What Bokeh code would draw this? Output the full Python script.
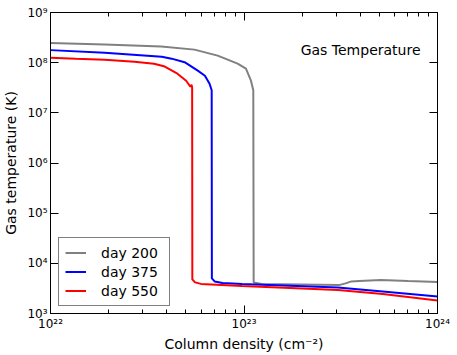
import numpy as np
from bokeh.plotting import figure
from bokeh.models import (LogAxis, FixedTicker, CustomJSTickFormatter, Label,
                          Legend, LegendItem, Range1d)
from bokeh.embed import file_html
from bokeh.resources import INLINE

# log10 column density (cm^-2) and log10 gas temperature (K)
day200_logN = [22.0, 22.28, 22.572, 22.744, 22.864, 22.967, 23.010, 23.036, 23.048, 23.050,
               23.091, 23.293, 23.495, 23.525, 23.555, 23.596, 23.707, 23.849, 24.0]
day200_logT = [8.39, 8.36, 8.32, 8.26, 8.14, 7.98, 7.88, 7.64, 7.45, 3.62,
               3.59, 3.58, 3.57, 3.60, 3.64, 3.65, 3.67, 3.65, 3.63]

day375_logN = [22.0, 22.28, 22.575, 22.626, 22.693, 22.761, 22.798, 22.822, 22.833, 22.834,
               22.848, 22.889, 22.990, 23.485, 23.717, 24.0]
day375_logT = [8.25, 8.20, 8.12, 8.08, 8.01, 7.84, 7.74, 7.58, 7.45, 3.70,
               3.64, 3.61, 3.59, 3.52, 3.44, 3.34]

day550_logN = [22.0, 22.131, 22.28, 22.434, 22.535, 22.586, 22.656, 22.701, 22.723, 22.729,
               22.732, 22.733, 22.747, 22.778, 22.990, 23.485, 23.717, 24.0]
day550_logT = [8.10, 8.08, 8.06, 8.02, 7.98, 7.93, 7.78, 7.64, 7.52, 7.56,
               7.50, 3.68, 3.62, 3.59, 3.55, 3.47, 3.39, 3.26]

series_labels = ["day 200", "day 375", "day 550"]
series_colors = ["gray", "blue", "red"]

x_major = [1e22, 1e23, 1e24]
x_minor = [m * 10.0**e for e in (22, 23) for m in range(2, 10)]
y_major = [10.0**e for e in range(3, 10)]

p = figure(width=457, height=355, x_axis_type="log", y_axis_type="log",
           x_range=Range1d(1e22, 1e24), y_range=Range1d(1e3, 1e9),
           output_backend="svg", toolbar_location=None,
           min_border_left=49, min_border_right=20, min_border_top=12, min_border_bottom=42)

p.grid.visible = False
p.outline_line_color = "black"
p.outline_line_width = 1

renderers = []
for logN, logT, col in [(day200_logN, day200_logT, series_colors[0]),
                        (day375_logN, day375_logT, series_colors[1]),
                        (day550_logN, day550_logT, series_colors[2])]:
    r = p.line(10.0 ** np.array(logN), 10.0 ** np.array(logT), line_color=col, line_width=2)
    renderers.append(r)

fmt = CustomJSTickFormatter(code="""
const sup = {'0':'\u2070','1':'\u00b9','2':'\u00b2','3':'\u00b3','4':'\u2074','5':'\u2075',
             '6':'\u2076','7':'\u2077','8':'\u2078','9':'\u2079','-':'\u207b'};
const e = Math.round(Math.log10(tick));
return '10' + String(e).split('').map(c => sup[c]).join('');
""")

xt = FixedTicker(ticks=x_major, minor_ticks=x_minor)
yt = FixedTicker(ticks=y_major, minor_ticks=[])

def style(ax):
    ax.axis_line_color = "black"
    ax.major_tick_in = 8
    ax.major_tick_out = 0
    ax.minor_tick_in = 4
    ax.minor_tick_out = 0
    ax.major_tick_line_color = "black"
    ax.minor_tick_line_color = "black"
    ax.major_label_text_font = "DejaVu Sans"
    ax.major_label_text_font_size = "12px"
    ax.major_label_text_color = "black"
    ax.axis_label_text_font = "DejaVu Sans"
    ax.axis_label_text_font_size = "14px"
    ax.axis_label_text_font_style = "normal"
    ax.axis_label_text_color = "black"

xa = p.xaxis[0]
xa.ticker = xt
xa.formatter = fmt
xa.axis_label = "Column density (cm\u207b\u00b2)"
xa.major_label_standoff = 3
xa.axis_label_standoff = 2
style(xa)

ya = p.yaxis[0]
ya.ticker = yt
ya.formatter = fmt
ya.axis_label = "Gas temperature (K)"
ya.major_label_standoff = 3
ya.axis_label_standoff = 5
style(ya)

top = LogAxis(ticker=FixedTicker(ticks=x_major, minor_ticks=x_minor))
style(top)
top.major_label_text_font_size = "1px"
top.major_label_text_alpha = 0
top.major_label_standoff = 0
p.add_layout(top, "above")
right = LogAxis(ticker=FixedTicker(ticks=y_major, minor_ticks=[]))
style(right)
right.major_label_text_font_size = "1px"
right.major_label_text_alpha = 0
right.major_label_standoff = 0
p.add_layout(right, "right")

legend = Legend(items=[LegendItem(label=series_labels[i], renderers=[renderers[i]]) for i in range(3)],
                location=(8, 7))
legend.border_line_color = "black"
legend.border_line_width = 1.5
legend.label_text_font = "DejaVu Sans"
legend.label_text_font_size = "14px"
legend.label_text_color = "black"
legend.glyph_width = 21
legend.glyph_height = 17
legend.label_height = 17
legend.label_width = 62
legend.label_standoff = 15
legend.spacing = 2
legend.padding = 6
legend.margin = 0
p.add_layout(legend, "center")

p.add_layout(Label(x=370, y=264, x_units="screen", y_units="screen", text="Gas Temperature",
                   text_align="right", text_baseline="alphabetic", text_font="DejaVu Sans",
                   text_font_size="14px", text_color="black"))

open("out.html", "w").write(file_html(p, INLINE))
